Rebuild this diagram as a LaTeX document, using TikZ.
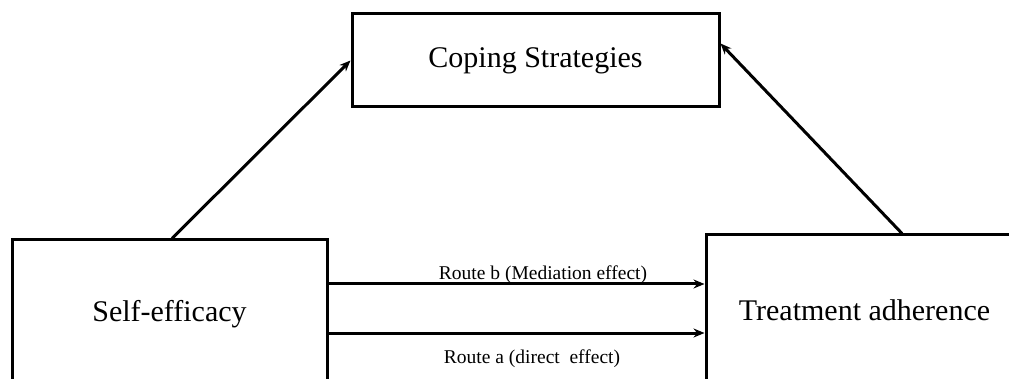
\documentclass[tikz,border=0pt]{standalone}
\usepackage{fontspec}
\setmainfont{Liberation Serif}
\usetikzlibrary{arrows.meta}
\begin{document}
\begin{tikzpicture}[x=1pt,y=-1pt,
  box/.style={draw=black, line width=3pt, fill=white, inner sep=0pt, font=\fontsize{30}{36}\selectfont},
  arr/.style={draw=black, line width=3pt, -{Stealth[length=11pt,width=9pt]}},
  routelbl/.style={inner sep=0pt, font=\fontsize{19.5}{23}\selectfont}]
\useasboundingbox (0,0) rectangle (1009,379);
\clip (0,0) rectangle (1009,379);
\node[box, minimum width=367pt, minimum height=93pt] (cs) at (535.5,60.5) {Coping Strategies};
\node[box, minimum width=315pt, minimum height=148pt] (se) at (169.5,314) {Self-efficacy};
\node[box, minimum width=317pt, minimum height=150pt] (ta) at (864.5,310) {Treatment adherence};
\draw[arr] ([xshift=2.5pt]se.north) -- (cs.west);
\draw[arr] ([xshift=37.5pt]ta.north) -- ([yshift=-31pt]cs.north east);
\draw[arr] ([yshift=30pt]se.east) -- ([yshift=30pt]se.east -| ta.west);
\draw[arr] ([yshift=-19pt]se.east) -- ([yshift=-19pt]se.east -| ta.west);
\node[routelbl] (lb) at (543,275) {Route b (Mediation effect)};
\node[routelbl] (la) at (532,359) {Route a (direct\ \ effect)};
\end{tikzpicture}
\end{document}
